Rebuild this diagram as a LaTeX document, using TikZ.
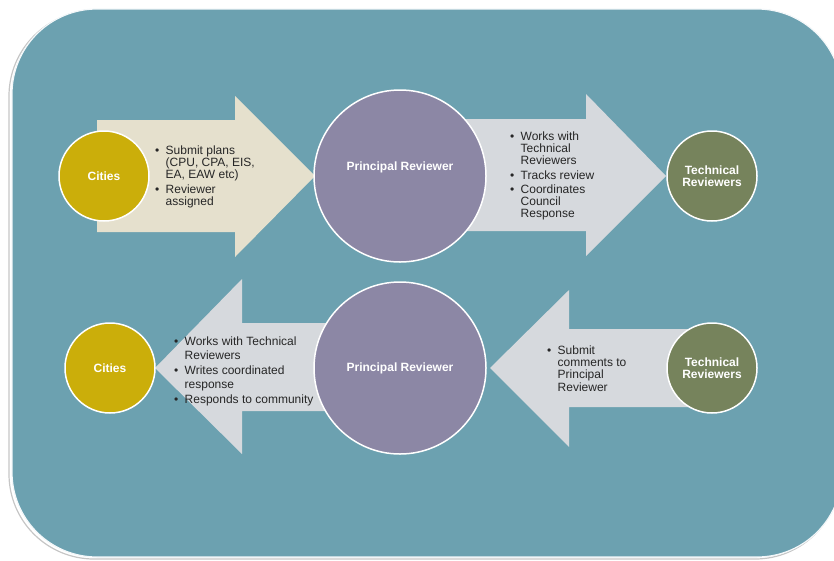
\documentclass[tikz,border=0pt]{standalone}
\usepackage{fontspec}
\setmainfont{Liberation Sans}
\usepackage{xcolor}
\definecolor{ColBg}{RGB}{108,161,176}
\definecolor{ColCity}{RGB}{203,174,10}
\definecolor{ColPrinc}{RGB}{140,135,165}
\definecolor{ColTech}{RGB}{118,131,92}
\definecolor{ColArrA}{RGB}{229,224,205}
\definecolor{ColArrB}{RGB}{214,217,221}
\usepackage{tikz}
\usetikzlibrary{shapes}
\tikzstyle{BgRect}=[fill=ColBg,draw=white!92!ColBg,line width=1.2pt,
rounded corners=85pt]
\tikzstyle{BgShadow}=[draw=gray!45,line width=1.2pt,rounded corners=85pt]
\tikzstyle{Circ}=[circle,draw=white,line width=1.5pt,inner sep=0pt,
text=white,align=center,font=\bfseries\fontsize{12}{12.5}\selectfont]
\tikzstyle{NodeCity}=[Circ,fill=ColCity,minimum size=90pt]
\tikzstyle{NodePrinc}=[Circ,fill=ColPrinc,minimum size=172pt]
\tikzstyle{NodeTech}=[Circ,fill=ColTech,minimum size=90pt]
\tikzstyle{ArrIn}=[fill=ColArrA,draw=none]
\tikzstyle{ArrOut}=[fill=ColArrB,draw=none]
\tikzstyle{NodeTxt}=[anchor=base west,inner sep=0pt,text=black!85]
\newcommand{\Bul}{\makebox[10.5pt][l]{\textbullet}}

\begin{document}
\begin{tikzpicture}[x=1pt,y=-1pt]
        \useasboundingbox(0,0)rectangle(834,560);
        % frame
        \draw[BgShadow](9,11)rectangle(840,559);
        \draw[BgRect](12,9)rectangle(842,557);
        % block arrows, top row
        \fill[ArrIn](97,120)--(235,120)--(235,96)--(315,176)
            --(235,257)--(235,232)--(97,232)--cycle;
        \fill[ArrOut](460,119)--(586,119)--(586,94)--(666,176)
            --(586,256)--(586,231)--(460,231)--cycle;
        % block arrows, bottom row
        \fill[ArrOut](340,323)--(242,323)--(242,279)--(155,368)
            --(242,454)--(242,411)--(340,411)--cycle;
        \fill[ArrOut](700,329)--(569,329)--(569,290)--(490,368)
            --(569,447)--(569,407)--(700,407)--cycle;
        % circles
        \node[NodeCity](city1)at(104,176){Cities};
        \node[NodePrinc](princ1)at(400,176){};
        \node[font=\bfseries\fontsize{12}{12.5}\selectfont,text=white]
            (princ1txt)at([yshift=9pt]princ1.center){Principal Reviewer};
        \node[NodeTech](tech1)at(712,176){Technical\\Reviewers};
        \node[NodeCity](city2)at(110,368){Cities};
        \node[NodePrinc](princ2)at(400,368){Principal Reviewer};
        \node[NodeTech](tech2)at(712,368){Technical\\Reviewers};
        % bullet texts
        \node[NodeTxt,font=\fontsize{12}{12.2}\selectfont](txt1)at(155,154)
            {\begin{tabular}[t]{@{}l@{}l@{}}
            \Bul&Submit plans\\&(CPU, CPA, EIS,\\&EA, EAW etc)\\[2pt]
            \Bul&Reviewer\\&assigned
            \end{tabular}};
        \node[NodeTxt,font=\fontsize{12}{12.2}\selectfont](txt2)at(510,140)
            {\begin{tabular}[t]{@{}l@{}l@{}}
            \Bul&Works with\\&Technical\\&Reviewers\\[2pt]
            \Bul&Tracks review\\[2pt]
            \Bul&Coordinates\\&Council\\&Response
            \end{tabular}};
        \node[NodeTxt,font=\fontsize{12}{14.5}\selectfont](txt3)at(174,345)
            {\begin{tabular}[t]{@{}l@{}l@{}}
            \Bul&Works with Technical\\&Reviewers\\
            \Bul&Writes coordinated\\&response\\
            \Bul&Responds to community
            \end{tabular}};
        \node[NodeTxt,font=\fontsize{12}{12.3}\selectfont](txt4)at(547,354)
            {\begin{tabular}[t]{@{}l@{}l@{}}
            \Bul&Submit\\&comments to\\&Principal\\&Reviewer
            \end{tabular}};
    \end{tikzpicture}
\end{document}
